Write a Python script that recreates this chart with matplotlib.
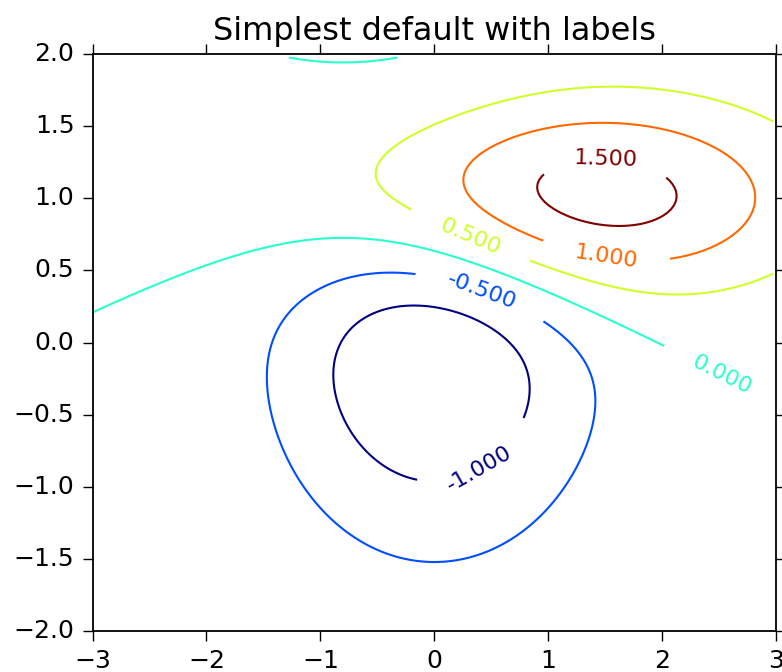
import numpy as np
import matplotlib
matplotlib.use("Agg")
import matplotlib.pyplot as plt
from matplotlib.colors import Normalize

plt.style.use("classic")

# grid definition
delta = 0.025
x_range = (-3.0, 3.0)
y_range = (-2.0, 2.0)

# gaussian parameters: (sigma_x, sigma_y, mu_x, mu_y)
g1 = (1.0, 1.0, 0.0, 0.0)
g2 = (1.5, 0.5, 1.0, 1.0)
scale = 10.0

# contour levels shown
levels = [-1.0, -0.5, 0.0, 0.5, 1.0, 1.5]

# label positions (styling)
label_positions = [(1.50, 1.22), (1.51, 0.62), (0.31, 0.73),
                   (0.43, 0.38), (2.53, -0.22), (0.37, -0.84)]

title = "Simplest default with labels"
xticks = [-3, -2, -1, 0, 1, 2, 3]
yticks = [-2.0, -1.5, -1.0, -0.5, 0.0, 0.5, 1.0, 1.5, 2.0]


def bivariate_normal(X, Y, sx, sy, mx, my):
    return np.exp(-0.5 * (((X - mx) / sx) ** 2 + ((Y - my) / sy) ** 2)) / (2 * np.pi * sx * sy)


x = np.arange(x_range[0], x_range[1], delta)
y = np.arange(y_range[0], y_range[1], delta)
X, Y = np.meshgrid(x, y)
Z1 = bivariate_normal(X, Y, *g1)
Z2 = bivariate_normal(X, Y, *g2)
Z = scale * (Z2 - Z1)

fig = plt.figure(figsize=(7.82, 6.72), dpi=100, facecolor="white")
ax = fig.add_axes([92.5 / 782, 1 - 631 / 672, (776 - 92.5) / 782, (631 - 54) / 672])
CS = ax.contour(X, Y, Z, levels=levels, cmap="jet",
                norm=Normalize(vmin=min(levels), vmax=max(levels)), linewidths=1.5)
ax.clabel(CS, inline=1, inline_spacing=33, fontsize=16, fmt="%1.3f",
          manual=label_positions)
ax.set_xlim(*x_range)
ax.set_ylim(*y_range)
ax.set_xticks(xticks)
ax.set_yticks(yticks)
ax.tick_params(direction="out", length=7, width=1, labelsize=18, pad=6)
for s in ax.spines.values():
    s.set_linewidth(1.3)
ax.set_title(title, fontsize=23, y=1.012)
fig.savefig("out.png", dpi=100, facecolor="white")
